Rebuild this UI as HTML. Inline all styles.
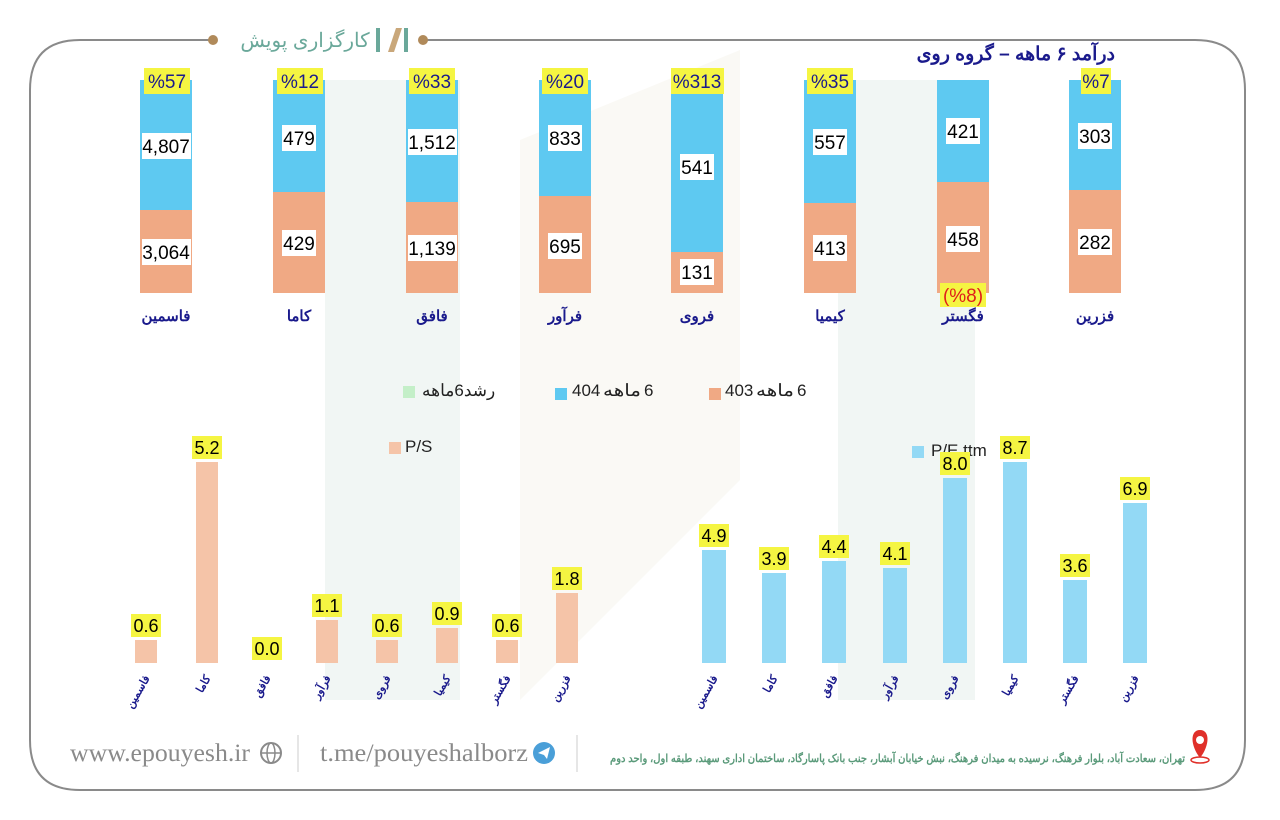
<!DOCTYPE html>
<html><head><meta charset="utf-8"><style>
html,body{margin:0;padding:0;background:#fff;width:1280px;height:820px;overflow:hidden}
svg{display:block}
text{font-family:"Liberation Sans","Noto Sans CJK SC",sans-serif}
</style></head><body>
<svg width="1280" height="820" viewBox="0 0 1280 820" xmlns="http://www.w3.org/2000/svg">
<path d="M210 40 H80 Q30 40 30 90 V740 Q30 790 80 790 H1195 Q1245 790 1245 740 V90 Q1245 40 1195 40 H425" fill="none" stroke="#8a8a8a" stroke-width="2"/>
<circle cx="213" cy="40" r="5" fill="#b08a5a"/>
<circle cx="423" cy="40" r="5" fill="#b08a5a"/>
<text x="305" y="47" text-anchor="middle" font-size="20" fill="#6aa89a">کارگزاری پویش</text>
<rect x="376" y="28" width="4" height="24" fill="#6aa89a"/>
<path d="M388 52 L396 28 L402 28 L394 52Z" fill="#c9a77a"/>
<rect x="404" y="28" width="4" height="24" fill="#6aa89a"/>
<rect x="325" y="80" width="135" height="620" fill="#f1f6f4"/>
<rect x="838" y="80" width="137" height="620" fill="#f1f6f4"/>
<path d="M520 140 L740 50 L740 480 L520 700Z" fill="#faf9f5"/>
<text x="1115" y="60" text-anchor="end" font-size="19" font-weight="bold" fill="#1a1a8c">درآمد ۶ ماهه – گروه روی</text>
<g font-size="19" text-anchor="middle">
<rect x="140" y="80" width="52" height="130" fill="#5ec9f1"/><rect x="140" y="210" width="52" height="83" fill="#f0a984"/>
<rect x="142" y="133" width="49" height="26" fill="#fff"/><text x="166" y="153">4,807</text>
<rect x="142" y="239" width="49" height="26" fill="#fff"/><text x="166" y="259">3,064</text>
<rect x="144" y="68" width="46" height="26" fill="#f5f542"/><text x="167" y="88" fill="#1a1a8c">%57</text>
<rect x="273" y="80" width="52" height="112" fill="#5ec9f1"/><rect x="273" y="192" width="52" height="101" fill="#f0a984"/>
<rect x="282" y="125" width="34" height="26" fill="#fff"/><text x="299" y="145">479</text>
<rect x="282" y="230" width="34" height="26" fill="#fff"/><text x="299" y="250">429</text>
<rect x="277" y="68" width="46" height="26" fill="#f5f542"/><text x="300" y="88" fill="#1a1a8c">%12</text>
<rect x="406" y="80" width="52" height="122" fill="#5ec9f1"/><rect x="406" y="202" width="52" height="91" fill="#f0a984"/>
<rect x="408" y="129" width="49" height="26" fill="#fff"/><text x="432" y="149">1,512</text>
<rect x="408" y="235" width="49" height="26" fill="#fff"/><text x="432" y="255">1,139</text>
<rect x="409" y="68" width="46" height="26" fill="#f5f542"/><text x="432" y="88" fill="#1a1a8c">%33</text>
<rect x="539" y="80" width="52" height="116" fill="#5ec9f1"/><rect x="539" y="196" width="52" height="97" fill="#f0a984"/>
<rect x="548" y="125" width="34" height="26" fill="#fff"/><text x="565" y="145">833</text>
<rect x="548" y="233" width="34" height="26" fill="#fff"/><text x="565" y="253">695</text>
<rect x="542" y="68" width="46" height="26" fill="#f5f542"/><text x="565" y="88" fill="#1a1a8c">%20</text>
<rect x="671" y="80" width="52" height="172" fill="#5ec9f1"/><rect x="671" y="252" width="52" height="41" fill="#f0a984"/>
<rect x="680" y="154" width="34" height="26" fill="#fff"/><text x="697" y="174">541</text>
<rect x="680" y="259" width="34" height="26" fill="#fff"/><text x="697" y="279">131</text>
<rect x="671" y="68" width="53" height="26" fill="#f5f542"/><text x="697" y="88" fill="#1a1a8c">%313</text>
<rect x="804" y="80" width="52" height="123" fill="#5ec9f1"/><rect x="804" y="203" width="52" height="90" fill="#f0a984"/>
<rect x="813" y="129" width="34" height="26" fill="#fff"/><text x="830" y="149">557</text>
<rect x="813" y="235" width="34" height="26" fill="#fff"/><text x="830" y="255">413</text>
<rect x="807" y="68" width="46" height="26" fill="#f5f542"/><text x="830" y="88" fill="#1a1a8c">%35</text>
<rect x="937" y="80" width="52" height="102" fill="#5ec9f1"/><rect x="937" y="182" width="52" height="111" fill="#f0a984"/>
<rect x="946" y="118" width="34" height="26" fill="#fff"/><text x="963" y="138">421</text>
<rect x="946" y="226" width="34" height="26" fill="#fff"/><text x="963" y="246">458</text>
<rect x="940" y="283" width="46" height="24" fill="#f5f542"/><text x="963" y="302" fill="#e0201a">(%8)</text>
<rect x="1069" y="80" width="52" height="110" fill="#5ec9f1"/><rect x="1069" y="190" width="52" height="103" fill="#f0a984"/>
<rect x="1078" y="123" width="34" height="26" fill="#fff"/><text x="1095" y="143">303</text>
<rect x="1078" y="229" width="34" height="26" fill="#fff"/><text x="1095" y="249">282</text>
<rect x="1081" y="68" width="30" height="26" fill="#f5f542"/><text x="1096" y="88" fill="#1a1a8c">%7</text>
</g>
<g font-size="15" font-weight="bold" fill="#1a1a8c" text-anchor="middle">
<text x="166" y="321">فاسمین</text><text x="299" y="321">کاما</text><text x="432" y="321">فافق</text><text x="565" y="321">فرآور</text><text x="697" y="321">فروی</text><text x="830" y="321">کیمیا</text><text x="963" y="321">فگستر</text><text x="1095" y="321">فزرین</text>
</g>
<g font-size="17" fill="#222">
<rect x="403" y="386" width="12" height="12" fill="#c4efc8"/><text x="422" y="396">رشد6ماهه</text>
<rect x="555" y="388" width="12" height="12" fill="#5ec9f1"/><text x="572" y="396">404</text><text x="603" y="396" textLength="38" lengthAdjust="spacingAndGlyphs">ماهه</text><text x="644" y="396">6</text>
<rect x="709" y="388" width="12" height="12" fill="#f0a984"/><text x="725" y="396">403</text><text x="756" y="396" textLength="38" lengthAdjust="spacingAndGlyphs">ماهه</text><text x="797" y="396">6</text>
<rect x="389" y="442" width="12" height="12" fill="#f5c4a8"/><text x="405" y="452">P/S</text>
<rect x="912" y="446" width="12" height="12" fill="#93d9f5"/><text x="931" y="456">P/E ttm</text>
</g>
<g fill="#f5c4a8">
<rect x="135" y="640" width="22" height="23"/><rect x="196" y="462" width="22" height="201"/><rect x="316" y="620" width="22" height="43"/><rect x="376" y="640" width="22" height="23"/><rect x="436" y="628" width="22" height="35"/><rect x="496" y="640" width="22" height="23"/><rect x="556" y="593" width="22" height="70"/>
</g>
<g font-size="18" text-anchor="middle">
<g fill="#f5f542">
<rect x="131" y="614" width="30" height="23"/><rect x="192" y="436" width="30" height="23"/><rect x="252" y="637" width="30" height="23"/><rect x="312" y="594" width="30" height="23"/><rect x="372" y="614" width="30" height="23"/><rect x="432" y="602" width="30" height="23"/><rect x="492" y="614" width="30" height="23"/><rect x="552" y="567" width="30" height="23"/>
</g>
<text x="146" y="632">0.6</text><text x="207" y="454">5.2</text><text x="267" y="655">0.0</text><text x="327" y="612">1.1</text><text x="387" y="632">0.6</text><text x="447" y="620">0.9</text><text x="507" y="632">0.6</text><text x="567" y="585">1.8</text>
</g>
<g fill="#93d9f5">
<rect x="702" y="550" width="24" height="113"/><rect x="762" y="573" width="24" height="90"/><rect x="822" y="561" width="24" height="102"/><rect x="883" y="568" width="24" height="95"/><rect x="943" y="478" width="24" height="185"/><rect x="1003" y="462" width="24" height="201"/><rect x="1063" y="580" width="24" height="83"/><rect x="1123" y="503" width="24" height="160"/>
</g>
<g font-size="18" text-anchor="middle">
<g fill="#f5f542">
<rect x="699" y="524" width="30" height="23"/><rect x="759" y="547" width="30" height="23"/><rect x="819" y="535" width="30" height="23"/><rect x="880" y="542" width="30" height="23"/><rect x="940" y="452" width="30" height="23"/><rect x="1000" y="436" width="30" height="23"/><rect x="1060" y="554" width="30" height="23"/><rect x="1120" y="477" width="30" height="23"/>
</g>
<text x="714" y="542">4.9</text><text x="774" y="565">3.9</text><text x="834" y="553">4.4</text><text x="895" y="560">4.1</text><text x="955" y="470">8.0</text><text x="1015" y="454">8.7</text><text x="1075" y="572">3.6</text><text x="1135" y="495">6.9</text>
</g>
<g font-size="11" font-weight="bold" fill="#1a1a8c" text-anchor="end">
<text transform="translate(150,678) rotate(-60)">فاسمین</text>
<text transform="translate(211,678) rotate(-60)">کاما</text>
<text transform="translate(271,678) rotate(-60)">فافق</text>
<text transform="translate(331,678) rotate(-60)">فرآور</text>
<text transform="translate(391,678) rotate(-60)">فروی</text>
<text transform="translate(451,678) rotate(-60)">کیمیا</text>
<text transform="translate(511,678) rotate(-60)">فگستر</text>
<text transform="translate(571,678) rotate(-60)">فزرین</text>
<text transform="translate(718,678) rotate(-60)">فاسمین</text>
<text transform="translate(778,678) rotate(-60)">کاما</text>
<text transform="translate(838,678) rotate(-60)">فافق</text>
<text transform="translate(899,678) rotate(-60)">فرآور</text>
<text transform="translate(959,678) rotate(-60)">فروی</text>
<text transform="translate(1019,678) rotate(-60)">کیمیا</text>
<text transform="translate(1079,678) rotate(-60)">فگستر</text>
<text transform="translate(1139,678) rotate(-60)">فزرین</text>
</g>
<text x="70" y="761" font-size="25" fill="#8a8a8a" style="font-family:'Liberation Serif',serif" textLength="180" lengthAdjust="spacingAndGlyphs">www.epouyesh.ir</text>
<circle cx="271" cy="753" r="10" fill="none" stroke="#8a8a8a" stroke-width="2"/><ellipse cx="271" cy="753" rx="4" ry="10" fill="none" stroke="#8a8a8a" stroke-width="1.5"/><line x1="261" y1="753" x2="281" y2="753" stroke="#8a8a8a" stroke-width="1.5"/>
<line x1="298" y1="735" x2="298" y2="772" stroke="#ddd" stroke-width="1.5"/>
<text x="320" y="761" font-size="25" fill="#8a8a8a" style="font-family:'Liberation Serif',serif" textLength="208" lengthAdjust="spacingAndGlyphs">t.me/pouyeshalborz</text>
<circle cx="544" cy="753" r="11" fill="#4a9fd8"/><path d="M538 753 L550 747 L547 759 L544 755Z" fill="#fff"/>
<line x1="577" y1="735" x2="577" y2="772" stroke="#ddd" stroke-width="1.5"/>
<text x="1185" y="762" text-anchor="end" font-size="11" font-weight="bold" fill="#5a9a7a" textLength="575" lengthAdjust="spacingAndGlyphs">تهران، سعادت آباد، بلوار فرهنگ، نرسیده به میدان فرهنگ، نبش خیابان آبشار، جنب بانک پاسارگاد، ساختمان اداری سهند، طبقه اول، واحد دوم</text>
<path d="M1200 758 C1190 745 1190 730 1200 730 C1210 730 1210 745 1200 758Z" fill="#e0302a"/><circle cx="1200" cy="740" r="4" fill="#fff"/>
<ellipse cx="1200" cy="760" rx="9" ry="3" fill="none" stroke="#e0302a" stroke-width="1.5"/>
</svg>
</body></html>
